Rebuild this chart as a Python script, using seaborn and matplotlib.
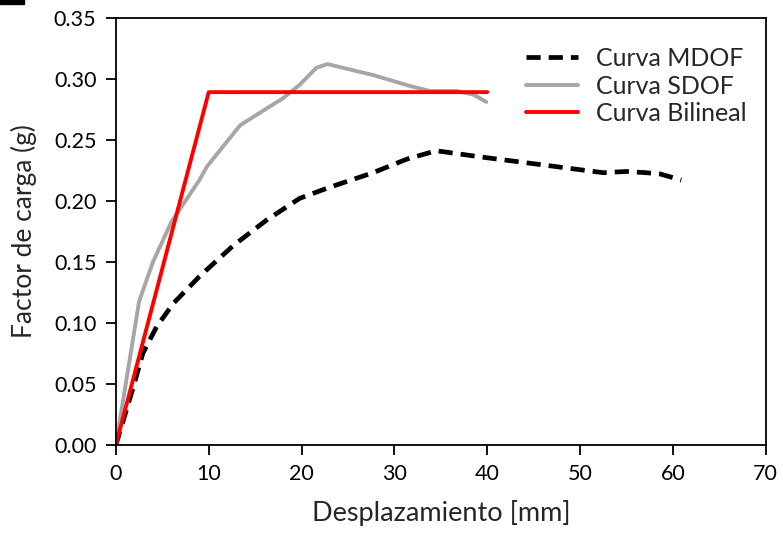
import matplotlib
matplotlib.use("Agg")
import matplotlib.pyplot as plt
import seaborn as sns
import pandas as pd
from matplotlib.patches import Rectangle

# Pushover capacity curves: displacement [mm] vs load factor [g]
mdof_x = [0, 1.9, 2.9, 4.4, 6.2, 9.0, 12.6, 16.2, 19.8, 23.0, 27.7, 31.3, 34.5,
          39.2, 46.4, 48.4, 52.5, 55.0, 57.1, 58.6, 60.9]
mdof_y = [0, 0.048, 0.075, 0.097, 0.116, 0.138, 0.163, 0.184, 0.202, 0.211, 0.223,
          0.234, 0.241, 0.236, 0.229, 0.227, 0.223, 0.224, 0.223, 0.222, 0.217]

sdof_x = [0, 2.5, 4.0, 6.0, 9.0, 9.8, 13.4, 18.0, 19.8, 21.6, 22.8, 25.5, 27.7,
          31.7, 33.8, 36.7, 38.5, 39.9]
sdof_y = [0, 0.1175, 0.150, 0.183, 0.217, 0.228, 0.262, 0.284, 0.295, 0.309, 0.312,
          0.307, 0.303, 0.294, 0.290, 0.290, 0.287, 0.281]

bilin_x = [0, 10, 40]
bilin_y = [0, 0.289, 0.289]

labels = ["Curva MDOF", "Curva SDOF", "Curva Bilineal"]

sns.set_theme(style="ticks")
plt.rcParams["font.family"] = ["Lato", "DejaVu Sans"]

fig = plt.figure(figsize=(7.83, 5.36), dpi=100)
ax = fig.add_axes([0.148, 0.170, 0.830, 0.797])

df_m = pd.DataFrame({"x": mdof_x, "y": mdof_y})
df_s = pd.DataFrame({"x": sdof_x, "y": sdof_y})
df_b = pd.DataFrame({"x": bilin_x, "y": bilin_y})

sns.lineplot(data=df_m, x="x", y="y", ax=ax, color="black", lw=3.4,
             linestyle=(0, (3.0, 1.7)), label=labels[0], sort=False,
             dash_capstyle="butt")
sns.lineplot(data=df_s, x="x", y="y", ax=ax, color="#a6a6a6", lw=2.8,
             label=labels[1], sort=False)
sns.lineplot(data=df_b, x="x", y="y", ax=ax, color="#ff0000", lw=2.8,
             label=labels[2], sort=False)

ax.set_xlim(0, 70)
ax.set_ylim(0, 0.35)
ax.set_xticks(range(0, 71, 10))
ax.set_yticks([0, 0.05, 0.10, 0.15, 0.20, 0.25, 0.30, 0.35])
ax.set_yticklabels([f"{v:.2f}" for v in ax.get_yticks()])
ax.set_xlabel("Desplazamiento [mm]", fontsize=19.5, labelpad=11)
ax.set_ylabel("Factor de carga (g)", fontsize=19, labelpad=12)
ax.tick_params(axis="both", labelsize=15.5, direction="out", length=7, width=1.3,
               colors="black", pad=7)
ax.tick_params(top=False, right=False)
for s in ax.spines.values():
    s.set_visible(True)
    s.set_linewidth(1.3)
    s.set_color("black")

leg = ax.legend(loc="upper right", bbox_to_anchor=(0.997, 0.972), frameon=False,
                fontsize=18, handlelength=2.1, handletextpad=0.7,
                labelspacing=0.18, borderpad=0.2)

fig.patches.append(Rectangle((0, 0.993), 0.031, 0.007, transform=fig.transFigure,
                             color="black"))

fig.savefig("out.png", dpi=100)
